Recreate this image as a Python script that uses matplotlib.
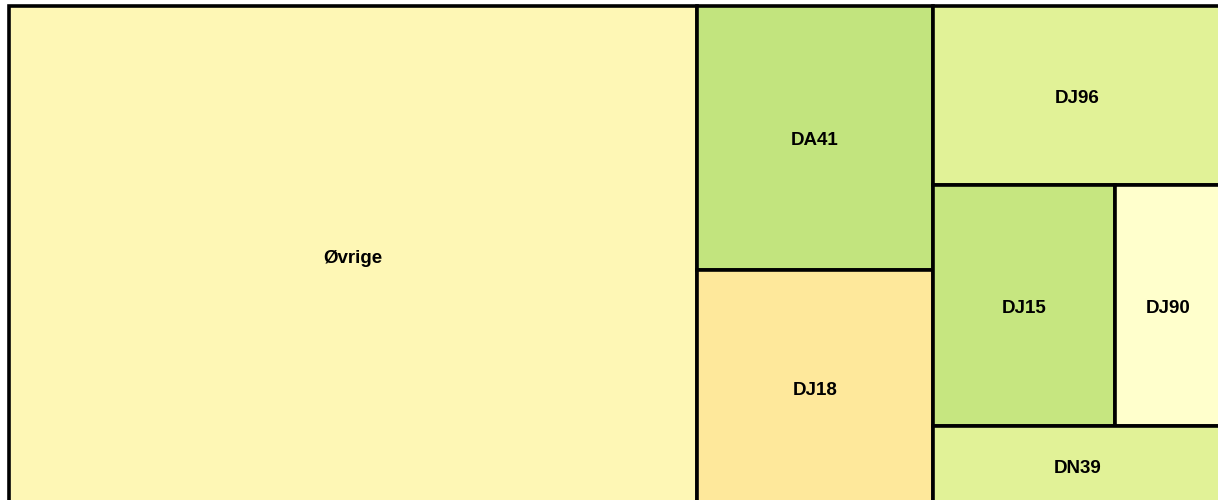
import matplotlib
matplotlib.use("Agg")
import matplotlib.pyplot as plt
from matplotlib.patches import Rectangle

labels = ["Øvrige", "DA41", "DJ18", "DJ96", "DJ15", "DJ90", "DN39"]
values = [56.72, 10.27, 9.18, 8.53, 7.23, 4.25, 3.81]
colors = ["#FEF7B5", "#C2E47E", "#FEE89B", "#E1F297", "#C6E680", "#FFFFCC", "#E1F297"]
group_sizes = [1, 2, 1, 2, 1]

W_PX, H_PX = 1218, 500
x0, y0, W, H = 9.0, 6.0, 1213.0, 500.0

fig = plt.figure(figsize=(W_PX / 100, H_PX / 100), dpi=100)
ax = fig.add_axes([0, 0, 1, 1])
ax.set_xlim(0, W_PX)
ax.set_ylim(H_PX, 0)
ax.axis("off")

total = sum(values)
scale = W * H / total
areas = [v * scale for v in values]

rx, ry, rw, rh = x0, y0, W, H
idx = 0
rects = []
for g in group_sizes:
    grp = areas[idx:idx + g]
    s = sum(grp)
    if rh <= rw:
        cw = s / rh
        yy = ry
        for a in grp:
            hh = a / cw
            rects.append((rx, yy, cw, hh))
            yy += hh
        rx += cw
        rw -= cw
    else:
        ch = s / rw
        xx = rx
        for a in grp:
            ww = a / ch
            rects.append((xx, ry, ww, ch))
            xx += ww
        ry += ch
        rh -= ch
    idx += g

for (x, y, w, h), lab, col in zip(rects, labels, colors):
    ax.add_patch(Rectangle((x, y), w, h, facecolor=col, edgecolor="black",
                           linewidth=2.6, joinstyle="miter"))
    ax.text(x + w / 2, y + h / 2 + 2.5, lab, ha="center", va="center",
            fontsize=13.5, fontweight="bold", family=["Liberation Sans", "DejaVu Sans"],
            color="black")

fig.savefig("out.png", dpi=100, facecolor="white")
